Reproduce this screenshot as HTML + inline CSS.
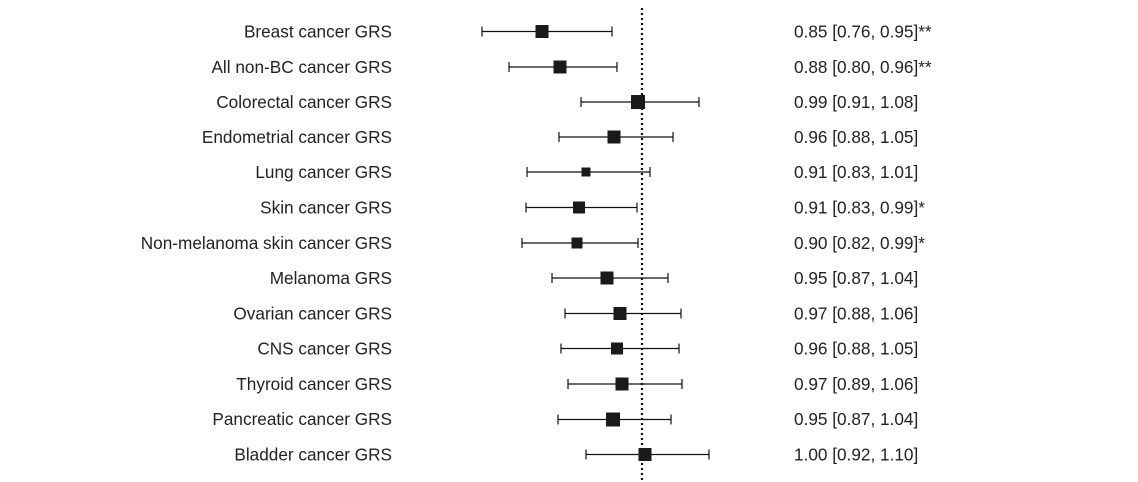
<!DOCTYPE html>
<html><head><meta charset="utf-8"><style>
body{margin:0;background:#fff;}
svg{display:block;font-family:"Liberation Sans",Arial,sans-serif;font-size:17.2px;fill:#222;}
</style></head><body>
<svg width="1138" height="482" viewBox="0 0 1138 482">
<line x1="642" y1="8" x2="642" y2="482" stroke="#111" stroke-width="2.2" stroke-dasharray="2,3"/>
<g stroke="#111" stroke-width="1.2" fill="#1a1a1a">
<g transform="translate(0,31.5)"><line x1="482" x2="612" y1="0" y2="0"/><line x1="482" x2="482" y1="-5" y2="5"/><line x1="612" x2="612" y1="-5" y2="5"/><rect x="535.5" y="-6.5" width="13" height="13" stroke="none"/></g>
<g transform="translate(0,67)"><line x1="509" x2="617" y1="0" y2="0"/><line x1="509" x2="509" y1="-5" y2="5"/><line x1="617" x2="617" y1="-5" y2="5"/><rect x="553.5" y="-6.5" width="13" height="13" stroke="none"/></g>
<g transform="translate(0,102)"><line x1="581" x2="699" y1="0" y2="0"/><line x1="581" x2="581" y1="-5" y2="5"/><line x1="699" x2="699" y1="-5" y2="5"/><rect x="631" y="-7" width="14" height="14" stroke="none"/></g>
<g transform="translate(0,137)"><line x1="559" x2="673" y1="0" y2="0"/><line x1="559" x2="559" y1="-5" y2="5"/><line x1="673" x2="673" y1="-5" y2="5"/><rect x="607.5" y="-6.5" width="13" height="13" stroke="none"/></g>
<g transform="translate(0,172)"><line x1="527" x2="650" y1="0" y2="0"/><line x1="527" x2="527" y1="-5" y2="5"/><line x1="650" x2="650" y1="-5" y2="5"/><rect x="581.5" y="-4.5" width="9" height="9" stroke="none"/></g>
<g transform="translate(0,207.5)"><line x1="526" x2="637" y1="0" y2="0"/><line x1="526" x2="526" y1="-5" y2="5"/><line x1="637" x2="637" y1="-5" y2="5"/><rect x="573" y="-6" width="12" height="12" stroke="none"/></g>
<g transform="translate(0,243)"><line x1="522" x2="638" y1="0" y2="0"/><line x1="522" x2="522" y1="-5" y2="5"/><line x1="638" x2="638" y1="-5" y2="5"/><rect x="571.5" y="-5.5" width="11" height="11" stroke="none"/></g>
<g transform="translate(0,278)"><line x1="552" x2="668" y1="0" y2="0"/><line x1="552" x2="552" y1="-5" y2="5"/><line x1="668" x2="668" y1="-5" y2="5"/><rect x="600.5" y="-6.5" width="13" height="13" stroke="none"/></g>
<g transform="translate(0,313.5)"><line x1="565" x2="681" y1="0" y2="0"/><line x1="565" x2="565" y1="-5" y2="5"/><line x1="681" x2="681" y1="-5" y2="5"/><rect x="613.5" y="-6.5" width="13" height="13" stroke="none"/></g>
<g transform="translate(0,348.5)"><line x1="561" x2="679" y1="0" y2="0"/><line x1="561" x2="561" y1="-5" y2="5"/><line x1="679" x2="679" y1="-5" y2="5"/><rect x="611" y="-6" width="12" height="12" stroke="none"/></g>
<g transform="translate(0,384)"><line x1="568" x2="682" y1="0" y2="0"/><line x1="568" x2="568" y1="-5" y2="5"/><line x1="682" x2="682" y1="-5" y2="5"/><rect x="615.5" y="-6.5" width="13" height="13" stroke="none"/></g>
<g transform="translate(0,419.5)"><line x1="558" x2="671" y1="0" y2="0"/><line x1="558" x2="558" y1="-5" y2="5"/><line x1="671" x2="671" y1="-5" y2="5"/><rect x="606" y="-7" width="14" height="14" stroke="none"/></g>
<g transform="translate(0,454.5)"><line x1="586" x2="709" y1="0" y2="0"/><line x1="586" x2="586" y1="-5" y2="5"/><line x1="709" x2="709" y1="-5" y2="5"/><rect x="638.5" y="-6.5" width="13" height="13" stroke="none"/></g>
</g>
<g text-anchor="end">
<text x="392" y="37.5">Breast cancer GRS</text>
<text x="392" y="73">All non-BC cancer GRS</text>
<text x="392" y="108">Colorectal cancer GRS</text>
<text x="392" y="143">Endometrial cancer GRS</text>
<text x="392" y="178">Lung cancer GRS</text>
<text x="392" y="213.5">Skin cancer GRS</text>
<text x="392" y="249">Non-melanoma skin cancer GRS</text>
<text x="392" y="284">Melanoma GRS</text>
<text x="392" y="319.5">Ovarian cancer GRS</text>
<text x="392" y="354.5">CNS cancer GRS</text>
<text x="392" y="390">Thyroid cancer GRS</text>
<text x="392" y="425">Pancreatic cancer GRS</text>
<text x="392" y="460.5">Bladder cancer GRS</text>
</g>
<g>
<text x="794" y="37.5">0.85 [0.76, 0.95]**</text>
<text x="794" y="73">0.88 [0.80, 0.96]**</text>
<text x="794" y="108">0.99 [0.91, 1.08]</text>
<text x="794" y="143">0.96 [0.88, 1.05]</text>
<text x="794" y="178">0.91 [0.83, 1.01]</text>
<text x="794" y="213.5">0.91 [0.83, 0.99]*</text>
<text x="794" y="249">0.90 [0.82, 0.99]*</text>
<text x="794" y="284">0.95 [0.87, 1.04]</text>
<text x="794" y="319.5">0.97 [0.88, 1.06]</text>
<text x="794" y="354.5">0.96 [0.88, 1.05]</text>
<text x="794" y="390">0.97 [0.89, 1.06]</text>
<text x="794" y="425">0.95 [0.87, 1.04]</text>
<text x="794" y="460.5">1.00 [0.92, 1.10]</text>
</g>
</svg>
</body></html>
